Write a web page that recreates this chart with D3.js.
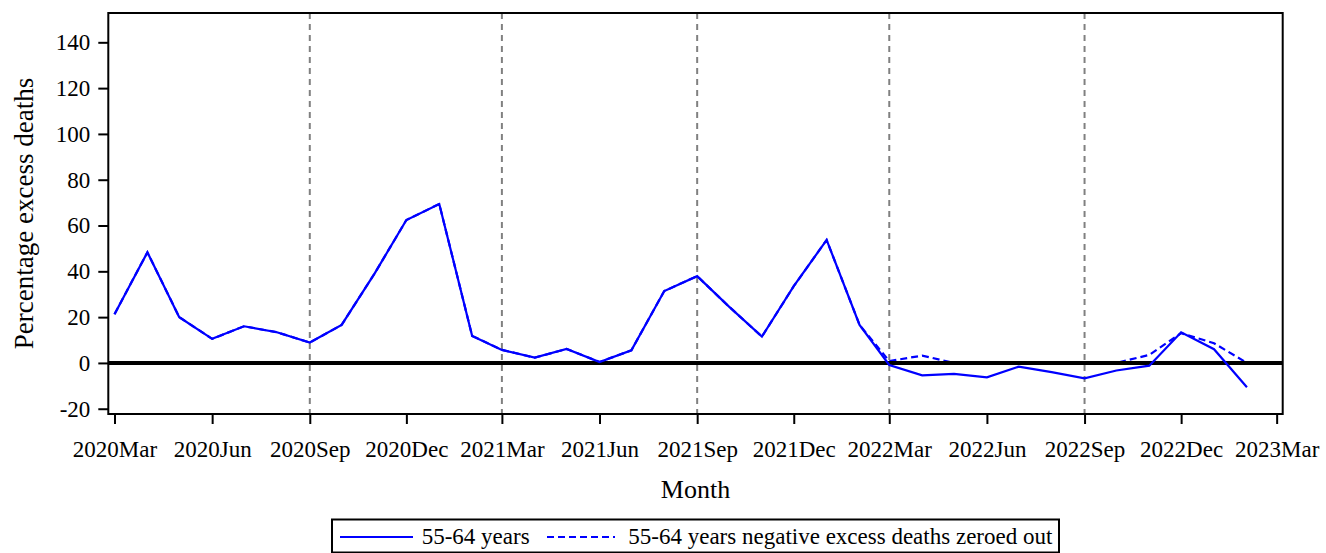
<!DOCTYPE html>
<html>
<head>
<meta charset="utf-8">
<script src="https://cdn.jsdelivr.net/npm/d3@7"></script>
<style>
  body { margin: 0; background: #fff; }
  svg text { font-family: "Liberation Serif", "Times New Roman", serif; fill: #000; }
</style>
</head>
<body>
<div id="visualization"></div>
<script>
// months (first day of each month)
const months = [
    '2020-03', '2020-04', '2020-05', '2020-06', '2020-07', '2020-08', '2020-09', '2020-10', '2020-11', '2020-12',
    '2021-01', '2021-02', '2021-03', '2021-04', '2021-05', '2021-06', '2021-07', '2021-08', '2021-09', '2021-10', '2021-11', '2021-12',
    '2022-01', '2022-02', '2022-03', '2022-04', '2022-05', '2022-06', '2022-07', '2022-08', '2022-09', '2022-10', '2022-11', '2022-12',
    '2023-01', '2023-02'
];

// 55-64 years, percentage excess deaths
const excess = [
    21.3, 48.3, 20.0, 10.5, 16.0, 13.4, 8.9, 16.6, 39.0, 62.4,
    69.4, 11.8, 5.7, 2.3, 6.1, 0.4, 5.5, 31.4, 37.9, 24.6, 11.5, 33.5,
    53.7, 16.6, -0.9, -5.4, -4.8, -6.3, -1.6, -4.0, -6.7, -3.3, -1.2, 13.4,
    6.0, -10.6
];

// 55-64 years, negative excess deaths zeroed out
const excessZeroed = [
    21.3, 48.3, 20.0, 10.5, 16.0, 13.4, 8.9, 16.6, 39.0, 62.4,
    69.4, 11.8, 5.7, 2.3, 6.1, 0.4, 5.5, 31.4, 37.9, 24.6, 11.5, 33.5,
    53.7, 16.6, 0.8, 3.2, 0, 0, 0, 0, 0, 0, 3.5, 13.0,
    8.6, 0
];

const xTicks = ['2020-03', '2020-06', '2020-09', '2020-12', '2021-03', '2021-06', '2021-09', '2021-12',
                '2022-03', '2022-06', '2022-09', '2022-12', '2023-03'];
const refLines = ['2020-09', '2021-03', '2021-09', '2022-03', '2022-09'];
const yTicks = [-20, 0, 20, 40, 60, 80, 100, 120, 140];

const seriesNames = ['55-64 years', '55-64 years negative excess deaths zeroed out'];

const parseMonth = d3.utcParse('%Y-%m');
const fmtMonth = d3.utcFormat('%Y%b');
const DAY = 864e5;

const margin = { top: 13, right: 43.3, bottom: 139, left: 108.3 },
      width = 1326 - margin.left - margin.right,
      height = 553 - margin.top - margin.bottom;

const svg = d3.select('#visualization').append('svg')
    .attr('width', 1326)
    .attr('height', 553);

const g = svg.append('g')
    .attr('transform', 'translate(' + margin.left + ',' + margin.top + ')');

// time scale, a few days of padding on each side
const x = d3.scaleUtc()
    .domain([new Date(+parseMonth('2020-03') - 5.85 * DAY), new Date(+parseMonth('2023-03') + 5.7 * DAY)])
    .range([0, width]);

const y = d3.scaleLinear()
    .domain([-22.3, 152.8])
    .range([height, 0]);

// reference lines
g.selectAll('.ref')
    .data(refLines)
    .enter()
    .append('line')
    .attr('x1', d => x(parseMonth(d)))
    .attr('x2', d => x(parseMonth(d)))
    .attr('y1', 0)
    .attr('y2', height)
    .attr('stroke', '#808080')
    .attr('stroke-width', 2)
    .attr('stroke-dasharray', '6,5');

const line = d3.line()
    .x((d, i) => x(parseMonth(months[i])))
    .y(d => y(d));

g.append('path')
    .datum(excessZeroed)
    .attr('d', line)
    .attr('fill', 'none')
    .attr('stroke', '#0000ff')
    .attr('stroke-width', 2.2)
    .attr('stroke-dasharray', '7,4');

// zero line (covers the zeroed part of the dashed series)
g.append('line')
    .attr('x1', 0)
    .attr('x2', width)
    .attr('y1', y(0))
    .attr('y2', y(0))
    .attr('stroke', '#000')
    .attr('stroke-width', 4);

g.append('path')
    .datum(excess)
    .attr('d', line)
    .attr('fill', 'none')
    .attr('stroke', '#0000ff')
    .attr('stroke-width', 2.2);

// axes
const xAxis = g.append('g')
    .attr('transform', 'translate(0,' + height + ')')
    .call(d3.axisBottom(x)
        .tickValues(xTicks.map(parseMonth))
        .tickFormat(fmtMonth)
        .tickSize(10)
        .tickPadding(17));

const yAxis = g.append('g')
    .call(d3.axisLeft(y)
        .tickValues(yTicks)
        .tickFormat(d => String(d))
        .tickSize(10)
        .tickPadding(8));

[xAxis, yAxis].forEach(a => {
    a.select('.domain').remove();
    a.selectAll('line').attr('stroke', '#000').attr('stroke-width', 2);
    a.selectAll('text').style('font-size', '23px').attr('fill', '#000');
});

// frame
g.append('rect')
    .attr('width', width)
    .attr('height', height)
    .attr('fill', 'none')
    .attr('stroke', '#000')
    .attr('stroke-width', 2);

// axis titles
g.append('text')
    .attr('x', width / 2)
    .attr('y', 498 - margin.top)
    .attr('text-anchor', 'middle')
    .style('font-size', '26px')
    .text('Month');

g.append('text')
    .attr('transform', 'translate(' + (33 - margin.left) + ',' + (height / 2) + ') rotate(-90)')
    .attr('text-anchor', 'middle')
    .style('font-size', '27px')
    .text('Percentage excess deaths');

// legend
const legend = svg.append('g');

legend.append('rect')
    .attr('x', 332)
    .attr('y', 519.5)
    .attr('width', 727)
    .attr('height', 33)
    .attr('fill', 'none')
    .attr('stroke', '#000')
    .attr('stroke-width', 2);

const legendItems = [
    { name: seriesNames[0], x1: 340, x2: 413, tx: 421.7, dash: null },
    { name: seriesNames[1], x1: 547, x2: 615, tx: 628.3, dash: '7,4' }
];

legendItems.forEach(item => {
    legend.append('line')
        .attr('x1', item.x1)
        .attr('x2', item.x2)
        .attr('y1', 537)
        .attr('y2', 537)
        .attr('stroke', '#0000ff')
        .attr('stroke-width', 2.2)
        .attr('stroke-dasharray', item.dash);
    legend.append('text')
        .attr('x', item.tx)
        .attr('y', 544)
        .style('font-size', '23px')
        .text(item.name);
});
</script>
</body>
</html>
